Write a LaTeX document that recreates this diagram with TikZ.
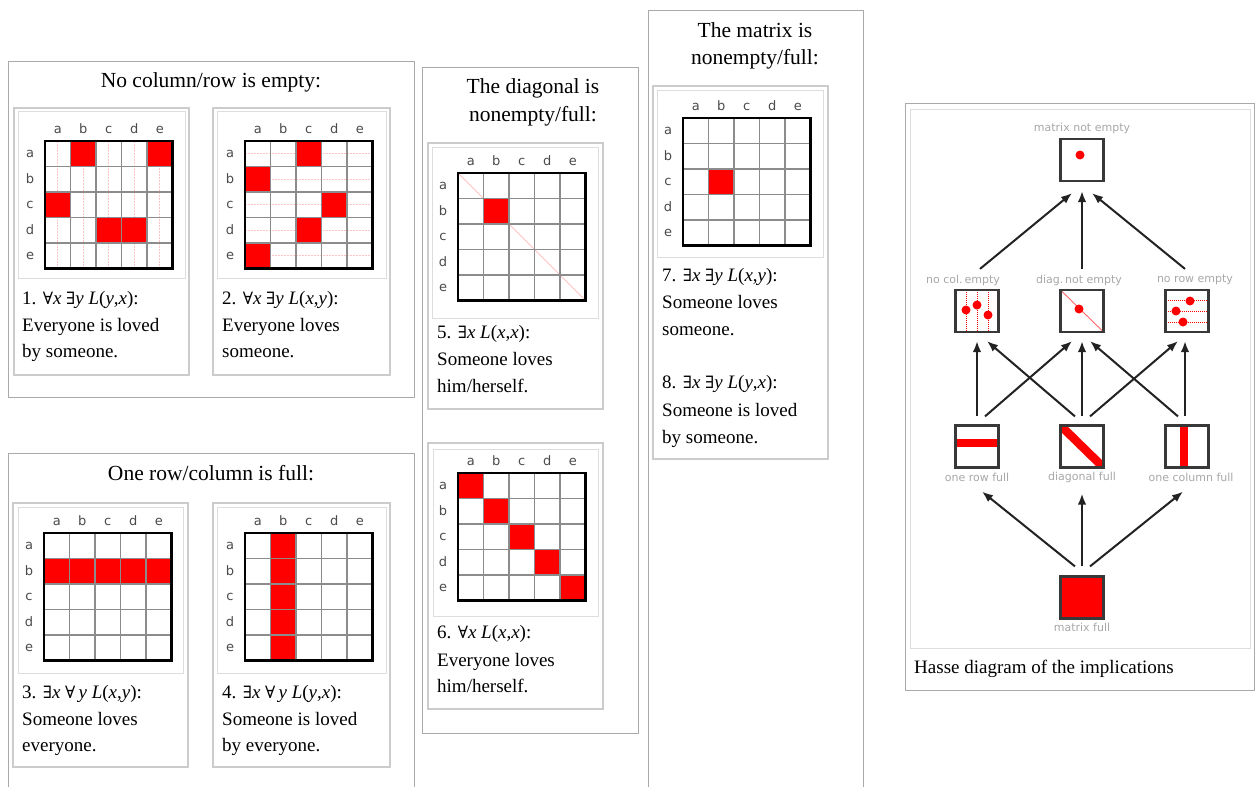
\documentclass[tikz,border=0pt]{standalone}
\usepackage{fontspec}
\setmainfont{Liberation Serif}
\newfontfamily\lblfont{DejaVu Sans}
\newfontfamily\qfont{DejaVu Serif}
\usetikzlibrary{arrows.meta}
\definecolor{obox}{HTML}{AAAAAA}
\definecolor{cbox}{HTML}{CCCCCC}
\definecolor{fbox}{HTML}{DDDDDD}
\definecolor{gline}{HTML}{8C8C8C}
\definecolor{glbl}{HTML}{4A4A4A}
\definecolor{hlbl}{HTML}{A8A8A8}
\definecolor{hred}{HTML}{FF0000}
\definecolor{pinkl}{HTML}{FFC4C4}
\definecolor{hdark}{HTML}{222222}
\tikzset{
 oboxs/.style={draw=obox, line width=1pt},
 cboxs/.style={draw=cbox, line width=2pt},
 fboxs/.style={draw=fbox, line width=1pt},
 gridl/.style={draw=gline, line width=1.1pt},
 gframe/.style={draw=black, line width=2.4pt},
 glab/.style={font=\lblfont\fontsize{13}{13}\selectfont, text=glbl, inner sep=0pt, anchor=base},
 ttl/.style={font=\fontsize{21.5}{26}\selectfont, inner sep=0pt, anchor=base},
 capt/.style={font=\fontsize{19}{26}\selectfont, inner sep=0pt, anchor=base west},
 hbox/.style={draw=hdark!90, line width=2.2pt, minimum width=43pt, minimum height=42pt, inner sep=0pt},
 hlab/.style={font=\lblfont\fontsize{11}{11}\selectfont, text=hlbl, inner sep=0pt},
 arr/.style={draw=hdark, line width=2pt, -{Latex[length=11pt,width=8.5pt]}},
 pinkdot/.style={draw=pinkl, line width=0.6pt, dash pattern=on 1.5pt off 1.5pt},
 reddot/.style={draw=hred, line width=0.8pt, dash pattern=on 1pt off 1pt},
}
\newcommand\cell[2]{\fill[hred] ({#1*25.5},{#2*25.5}) rectangle ++(25.5,25.5);}
\newcommand\mgrid[4]{%
\begin{scope}[shift={(#2,#3)}]
#4
\foreach \k in {1,2,3,4}{%
 \draw[gridl] ({\k*25.5},0) -- ({\k*25.5},127.5);
 \draw[gridl] (0,{\k*25.5}) -- (127.5,{\k*25.5});}
\draw[gframe] (0,0) rectangle (127.5,127.5);
\foreach \i/\l in {0/a,1/b,2/c,3/d,4/e}{%
 \node[glab] (#1c\i) at ({(\i+0.5)*25.5},-8) {\l};
 \node[glab] (#1r\i) at (-15,{(\i+0.5)*25.5+4}) {\l};}
\end{scope}}
\newcommand\Fa{{\qfont\fontsize{17}{17}\selectfont ∀}}
\newcommand\Ex{{\qfont\fontsize{17}{17}\selectfont ∃}}
\newcommand\ii[1]{\textit{#1}}
\begin{document}
\begin{tikzpicture}[x=1pt,y=-1pt]
\useasboundingbox (0,0) rectangle (1256,787);
\fill[white] (0,0) rectangle (1256,787);

% outer boxes
\draw[oboxs] (8,61) rectangle (414,397);
\draw[oboxs] (8,787) -- (8,453) -- (414,453) -- (414,787);
\draw[oboxs] (422,67) rectangle (638,733);
\draw[oboxs] (648,787) -- (648,10) -- (863,10) -- (863,787);
\draw[oboxs] (905,103) rectangle (1254.5,690);
\draw[fboxs] (910,109) rectangle (1250,648);

% titles
\node[ttl] (tA) at (211,87) {No column/row is empty:};
\node[ttl] (tB) at (211,480) {One row/column is full:};
\node[ttl] (tC1) at (533,93) {The diagonal is};
\node[ttl] (tC2) at (533,121) {nonempty/full:};
\node[ttl] (tD1) at (755,37) {The matrix is};
\node[ttl] (tD2) at (755,64) {nonempty/full:};

% caption boxes and image frames
\draw[cboxs] (14,108) rectangle (189,375);  \draw[fboxs] (18,111) rectangle (185,278);
\draw[cboxs] (213,108) rectangle (390,375); \draw[fboxs] (217,111) rectangle (386,278);
\draw[cboxs] (13,503) rectangle (188,767);  \draw[fboxs] (18,507) rectangle (183,673);
\draw[cboxs] (213,503) rectangle (390,767); \draw[fboxs] (217,507) rectangle (386,673);
\draw[cboxs] (428,143) rectangle (603,409); \draw[fboxs] (432,147) rectangle (598,318);
\draw[cboxs] (428,443) rectangle (603,709); \draw[fboxs] (433,449) rectangle (598,616);
\draw[cboxs] (653,86) rectangle (828,459);  \draw[fboxs] (657,90) rectangle (823,257);

% grids
\mgrid{ga}{45}{141}{%
 \foreach \k in {0,...,4}{\draw[pinkdot] ({(\k+0.5)*25.5},0) -- ({(\k+0.5)*25.5},127.5);}
 \cell{1}{0}\cell{4}{0}\cell{0}{2}\cell{2}{3}\cell{3}{3}}
\mgrid{gb}{245}{141}{%
 \foreach \k in {0,...,4}{\draw[pinkdot] (0,{(\k+0.5)*25.5}) -- (127.5,{(\k+0.5)*25.5});}
 \cell{2}{0}\cell{0}{1}\cell{3}{2}\cell{2}{3}\cell{0}{4}}
\mgrid{gc}{44}{533}{\foreach \k in {0,...,4}{\cell{\k}{1}}}
\mgrid{gd}{245}{533}{\foreach \k in {0,...,4}{\cell{1}{\k}}}
\mgrid{ge}{458}{173}{%
 \draw[pinkl, line width=0.8pt] (0,0) -- (127.5,127.5);
 \cell{1}{1}}
\mgrid{gf}{458}{473}{\foreach \k in {0,...,4}{\cell{\k}{\k}}}
\mgrid{gg}{683}{118}{\cell{1}{2}}

% captions
\node[capt] (c1a) at (22,304) {1. \Fa\ii{x} \Ex\ii{y} \ii{L}(\ii{y},\ii{x}):};
\node[capt] (c1b) at (22,331) {Everyone is loved};
\node[capt] (c1c) at (22,357) {by someone.};
\node[capt] (c2a) at (222,304) {2. \Fa\ii{x} \Ex\ii{y} \ii{L}(\ii{x},\ii{y}):};
\node[capt] (c2b) at (222,331) {Everyone loves};
\node[capt] (c2c) at (222,357) {someone.};
\node[capt] (c3a) at (22,698) {3. \Ex\ii{x} \Fa\,\ii{y} \ii{L}(\ii{x},\ii{y}):};
\node[capt] (c3b) at (22,725) {Someone loves};
\node[capt] (c3c) at (22,751) {everyone.};
\node[capt] (c4a) at (222,698) {4. \Ex\ii{x} \Fa\,\ii{y} \ii{L}(\ii{y},\ii{x}):};
\node[capt] (c4b) at (222,725) {Someone is loved};
\node[capt] (c4c) at (222,751) {by everyone.};
\node[capt] (c5a) at (437,338) {5. \Ex\ii{x} \ii{L}(\ii{x},\ii{x}):};
\node[capt] (c5b) at (437,365) {Someone loves};
\node[capt] (c5c) at (437,392) {him/herself.};
\node[capt] (c6a) at (437,638) {6. \Fa\ii{x} \ii{L}(\ii{x},\ii{x}):};
\node[capt] (c6b) at (437,666) {Everyone loves};
\node[capt] (c6c) at (437,692) {him/herself.};
\node[capt] (c7a) at (662,281) {7. \Ex\ii{x} \Ex\ii{y} \ii{L}(\ii{x},\ii{y}):};
\node[capt] (c7b) at (662,308) {Someone loves};
\node[capt] (c7c) at (662,335) {someone.};
\node[capt] (c8a) at (662,388) {8. \Ex\ii{x} \Ex\ii{y} \ii{L}(\ii{y},\ii{x}):};
\node[capt] (c8b) at (662,416) {Someone is loved};
\node[capt] (c8c) at (662,443) {by someone.};
\node[capt] (hcap) at (914,673) {Hasse diagram of the implications};

% Hasse diagram nodes
\node[hbox, path picture={\fill[hred] ([xshift=-2pt,yshift=5pt]path picture bounding box.center) circle (4.5pt);}] (top) at (1082,160) {};
\node[hbox, path picture={
  \foreach \dx in {-11,0,11}{\draw[reddot] ([xshift=\dx pt]path picture bounding box.north) -- ([xshift=\dx pt]path picture bounding box.south);}
  \fill[hred] ([xshift=-11pt,yshift=1pt]path picture bounding box.center) circle (4.5pt);
  \fill[hred] ([yshift=6pt]path picture bounding box.center) circle (4.5pt);
  \fill[hred] ([xshift=11pt,yshift=-4pt]path picture bounding box.center) circle (4.5pt);}] (ncol) at (977,311) {};
\node[hbox, path picture={
  \draw[hred!60, line width=0.9pt] (path picture bounding box.north west) -- (path picture bounding box.south east);
  \fill[hred] ([xshift=-3pt,yshift=2pt]path picture bounding box.center) circle (4.5pt);}] (ndiag) at (1082,311) {};
\node[hbox, path picture={
  \foreach \dy in {-11,0,11}{\draw[reddot] ([yshift=\dy pt]path picture bounding box.west) -- ([yshift=\dy pt]path picture bounding box.east);}
  \fill[hred] ([xshift=3pt,yshift=10pt]path picture bounding box.center) circle (4.5pt);
  \fill[hred] ([xshift=-11pt]path picture bounding box.center) circle (4.5pt);
  \fill[hred] ([xshift=-4pt,yshift=-11pt]path picture bounding box.center) circle (4.5pt);}] (nrow) at (1187,311) {};
\node[hbox, path picture={\fill[hred] ([yshift=-0.5pt]path picture bounding box.west) rectangle ([yshift=7.5pt]path picture bounding box.east);}] (rowf) at (977,446.5) {};
\node[hbox, path picture={\draw[hred, line width=8.5pt] (path picture bounding box.north west) -- (path picture bounding box.south east);}] (diagf) at (1082,446.5) {};
\node[hbox, path picture={\fill[hred] ([xshift=-7pt]path picture bounding box.north) rectangle ([xshift=1pt]path picture bounding box.south);}] (colf) at (1187,446.5) {};
\node[hbox, fill=hred] (full) at (1082,597.5) {};

% Hasse labels
\node[hlab] (ltop) at (1082,128) {matrix not empty};
\node[hlab] (lncol) at (963,280) {no col.\,empty};
\node[hlab] (lndiag) at (1079,280) {diag.\,not empty};
\node[hlab] (lnrow) at (1195,280) {no row empty};
\node[hlab] (lrowf) at (977,477) {one row full};
\node[hlab] (ldiagf) at (1082,477) {diagonal full};
\node[hlab] (lcolf) at (1191,477) {one column full};
\node[hlab] (lfull) at (1082,627) {matrix full};

% Hasse arrows
\draw[arr] ([xshift=3pt,yshift=20pt]ncol.north) -- ([xshift=-10pt,yshift=-11pt]top.south);
\draw[arr] ([yshift=20pt]ndiag.north) -- ([yshift=-9pt]top.south);
\draw[arr] ([xshift=-2pt,yshift=20pt]nrow.north) -- ([xshift=10pt,yshift=-11pt]top.south);

\draw[arr] ([yshift=8pt]rowf.north) -- ([yshift=-8pt]ncol.south);
\draw[arr] ([xshift=8pt,yshift=8pt]rowf.north) -- ([xshift=-10pt,yshift=-8pt]ndiag.south);
\draw[arr] ([xshift=-7pt,yshift=8pt]diagf.north) -- ([xshift=10pt,yshift=-8pt]ncol.south);
\draw[arr] ([yshift=8pt]diagf.north) -- ([yshift=-8pt]ndiag.south);
\draw[arr] ([xshift=8pt,yshift=8pt]diagf.north) -- ([xshift=-9pt,yshift=-8pt]nrow.south);
\draw[arr] ([xshift=-9pt,yshift=8pt]colf.north) -- ([xshift=8pt,yshift=-8pt]ndiag.south);
\draw[arr] ([xshift=-2pt,yshift=8pt]colf.north) -- ([xshift=-2pt,yshift=-8pt]nrow.south);

\draw[arr] ([xshift=-7pt,yshift=9pt]full.north) -- ([xshift=5pt,yshift=-23pt]rowf.south);
\draw[arr] ([yshift=9pt]full.north) -- ([yshift=-25pt]diagf.south);
\draw[arr] ([xshift=8pt,yshift=9pt]full.north) -- ([xshift=-4pt,yshift=-23pt]colf.south);
\end{tikzpicture}
\end{document}
